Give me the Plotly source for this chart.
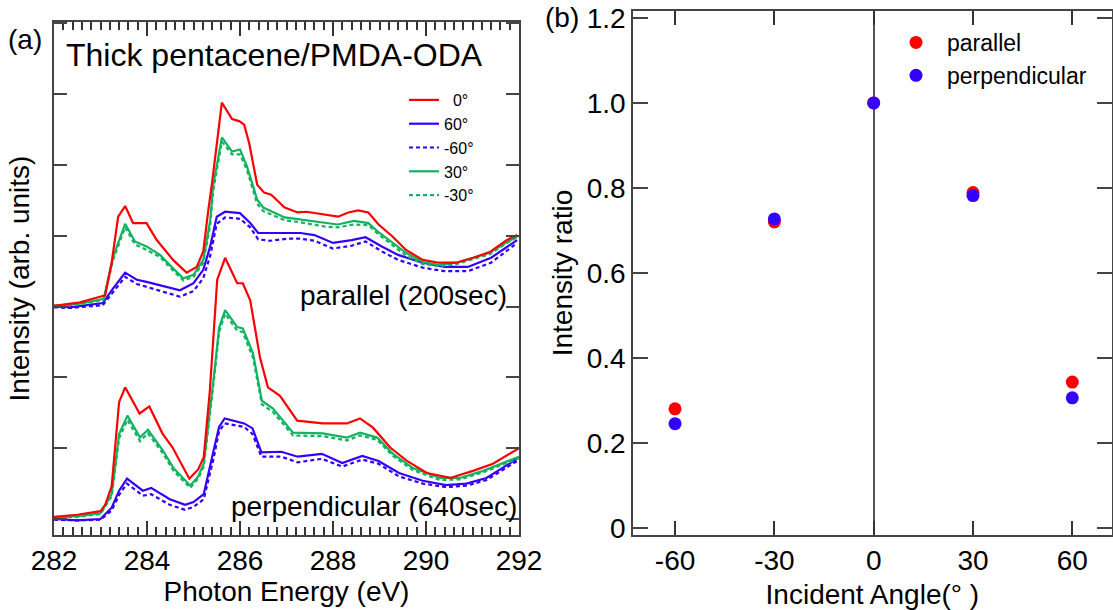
import plotly.graph_objects as go

# ---------------- Panel (a): NEXAFS spectra (offset units, tick spacing = 1) ----------------
# parallel (200 sec), baseline offset 3
par_e_red = [282.0, 282.56, 282.99, 283.10, 283.24, 283.38, 283.53, 283.70, 283.99, 284.21, 284.56, 284.85,
             285.07, 285.21, 285.31, 285.40, 285.61, 285.83, 285.98, 286.09, 286.20, 286.37, 286.52, 286.67,
             286.96, 287.24, 287.43, 287.83, 288.11, 288.33, 288.54, 288.76, 288.98, 289.28, 289.57, 289.93,
             290.28, 290.65, 291.02, 291.37, 291.74, 291.96]
par_i_red = [3.01, 3.06, 3.14, 3.16, 3.62, 4.27, 4.42, 4.18, 4.18, 3.94, 3.66, 3.48,
             3.56, 3.78, 4.32, 4.75, 5.88, 5.65, 5.62, 5.57, 5.30, 4.72, 4.61, 4.58,
             4.40, 4.33, 4.34, 4.30, 4.27, 4.33, 4.36, 4.33, 4.16, 3.99, 3.80, 3.66,
             3.62, 3.62, 3.69, 3.77, 3.94, 4.01]

par_e_green = [282.0, 282.56, 283.07, 283.27, 283.53, 283.74, 283.99, 284.28, 284.56, 284.78, 285.00, 285.21,
               285.36, 285.42, 285.61, 285.83, 286.00, 286.15, 286.37, 286.50, 286.96, 287.30, 287.83, 288.10,
               288.45, 288.76, 289.00, 289.57, 289.93, 290.28, 290.65, 291.02, 291.37, 291.74, 291.96]
par_i_g30 = [3.01, 3.04, 3.11, 3.70, 4.17, 3.92, 3.85, 3.73, 3.54, 3.40, 3.45, 3.66,
             4.22, 4.70, 5.39, 5.19, 5.22, 4.98, 4.51, 4.40, 4.26, 4.23, 4.18, 4.16,
             4.21, 4.18, 4.04, 3.76, 3.63, 3.59, 3.62, 3.69, 3.76, 3.91, 3.99]
par_i_gm30 = [3.01, 3.03, 3.10, 3.66, 4.12, 3.88, 3.80, 3.70, 3.51, 3.37, 3.42, 3.62,
              4.15, 4.62, 5.33, 5.15, 5.15, 4.93, 4.45, 4.35, 4.22, 4.19, 4.13, 4.12,
              4.16, 4.15, 4.01, 3.72, 3.60, 3.57, 3.60, 3.67, 3.74, 3.90, 3.98]

par_e_blue = [282.0, 282.34, 283.05, 283.24, 283.53, 283.78, 283.99, 284.42, 284.71, 285.00, 285.21, 285.36,
              285.50, 285.68, 286.00, 286.22, 286.39, 286.65, 287.03, 287.30, 287.60, 288.00, 288.40, 288.70,
              289.05, 289.40, 289.93, 290.40, 290.90, 291.40, 291.96]
par_i_b60 = [3.01, 2.99, 3.05, 3.23, 3.48, 3.38, 3.35, 3.28, 3.23, 3.33, 3.52, 3.85,
             4.27, 4.34, 4.32, 4.18, 4.04, 4.04, 4.04, 4.04, 4.01, 3.90, 3.94, 3.98,
             3.85, 3.73, 3.62, 3.56, 3.56, 3.69, 3.94]
par_i_bm60 = [2.99, 2.98, 3.02, 3.18, 3.42, 3.32, 3.28, 3.20, 3.14, 3.22, 3.40, 3.72,
              4.17, 4.26, 4.24, 4.12, 3.95, 3.93, 3.96, 3.96, 3.93, 3.82, 3.86, 3.92,
              3.78, 3.66, 3.55, 3.50, 3.50, 3.62, 3.90]

# perpendicular (640 sec), baseline offset 0
per_e_red = [282.0, 282.5, 283.0, 283.10, 283.24, 283.40, 283.53, 283.84, 284.05, 284.33, 284.55, 284.91,
             285.10, 285.22, 285.35, 285.42, 285.51, 285.68, 285.94, 286.06, 286.22, 286.43, 286.60, 286.86,
             287.23, 287.78, 288.30, 288.58, 288.86, 289.23, 289.59, 290.02, 290.52, 291.01, 291.44, 292.0]
per_i_red = [0.03, 0.06, 0.11, 0.20, 0.46, 1.65, 1.86, 1.49, 1.59, 1.21, 1.01, 0.57,
             0.70, 0.87, 1.80, 2.52, 3.38, 3.69, 3.33, 3.33, 3.09, 2.28, 1.86, 1.74,
             1.39, 1.35, 1.35, 1.42, 1.29, 1.01, 0.82, 0.65, 0.58, 0.68, 0.78, 1.00]

per_e_green = [282.0, 282.5, 283.0, 283.24, 283.40, 283.58, 283.85, 284.02, 284.35, 284.57, 284.93, 285.10,
               285.22, 285.35, 285.46, 285.55, 285.68, 285.94, 286.06, 286.28, 286.47, 286.71, 287.14, 287.78,
               288.30, 288.58, 288.95, 289.29, 289.72, 290.30, 290.73, 291.23, 291.74, 292.0]
per_i_g30 = [0.02, 0.04, 0.08, 0.35, 1.20, 1.46, 1.15, 1.26, 0.96, 0.72, 0.47, 0.60,
             0.78, 1.50, 2.14, 2.70, 2.95, 2.71, 2.69, 2.34, 1.67, 1.56, 1.22, 1.21,
             1.15, 1.22, 1.15, 0.92, 0.72, 0.58, 0.58, 0.68, 0.82, 0.88]
per_i_gm30 = [0.02, 0.03, 0.07, 0.32, 1.14, 1.40, 1.10, 1.21, 0.92, 0.68, 0.44, 0.57,
              0.74, 1.44, 2.08, 2.64, 2.90, 2.66, 2.64, 2.28, 1.62, 1.51, 1.18, 1.17,
              1.11, 1.18, 1.12, 0.89, 0.69, 0.55, 0.56, 0.66, 0.80, 0.86]

per_e_blue = [282.0, 282.5, 283.0, 283.24, 283.40, 283.57, 283.91, 284.09, 284.49, 284.82, 285.00, 285.22,
              285.43, 285.55, 285.67, 286.09, 286.27, 286.46, 286.89, 287.24, 287.76, 288.20, 288.63, 288.98,
              289.42, 289.93, 290.43, 290.87, 291.30, 291.96]
per_i_b60 = [0.00, -0.02, 0.00, 0.16, 0.40, 0.57, 0.40, 0.44, 0.28, 0.20, 0.24, 0.35,
             0.96, 1.30, 1.42, 1.35, 1.28, 0.94, 0.95, 0.88, 0.92, 0.79, 0.89, 0.82,
             0.65, 0.54, 0.48, 0.50, 0.58, 0.85]
per_i_bm60 = [-0.01, -0.02, -0.01, 0.12, 0.34, 0.50, 0.33, 0.35, 0.20, 0.13, 0.17, 0.28,
              0.85, 1.24, 1.35, 1.30, 1.20, 0.88, 0.88, 0.80, 0.85, 0.74, 0.84, 0.78,
              0.60, 0.50, 0.45, 0.47, 0.55, 0.82]

# ---------------- Panel (b): intensity ratio vs incident angle ----------------
angles = [-60, -30, 0, 30, 60]
ratio_parallel = [0.280, 0.720, 1.000, 0.789, 0.343]
ratio_perpendicular = [0.245, 0.727, 1.000, 0.782, 0.306]

angle_ticks = [-60, -30, 0, 30, 60]
angle_ticktext = ["-60", "-30", "0", "30", "60"]
ratio_tickvals = [0, 0.2, 0.4, 0.6, 0.8, 1.0, 1.2]
ratio_ticktext = ["0", "0.2", "0.4", "0.6", "0.8", "1.0", "1.2"]

RED = "#ff0000"
BLUE = "#3300ff"
GREEN = "#12b360"
FONT = "Arial, Liberation Sans, sans-serif"
FRAME = "#444444"

fig = go.Figure()

def line(x, y, color, dash, name, show, rank):
    fig.add_trace(go.Scatter(
        x=x, y=y, mode="lines", name=name, showlegend=show, legendrank=rank,
        line=dict(color=color, width=2.2, dash=dash), xaxis="x", yaxis="y", legend="legend",
        hoverinfo="skip"))

# blue / green first so red draws on top
line(par_e_blue, par_i_bm60, BLUE, "4px,3px", "-60°", True, 3)
line(per_e_blue, per_i_bm60, BLUE, "4px,3px", "-60°", False, 3)
line(par_e_blue, par_i_b60, BLUE, "solid", "60°", True, 2)
line(per_e_blue, per_i_b60, BLUE, "solid", "60°", False, 2)
line(par_e_green, par_i_gm30, GREEN, "4px,3px", "-30°", True, 5)
line(per_e_green, per_i_gm30, GREEN, "4px,3px", "-30°", False, 5)
line(par_e_green, par_i_g30, GREEN, "solid", "30°", True, 4)
line(per_e_green, per_i_g30, GREEN, "solid", "30°", False, 4)
line(par_e_red, par_i_red, RED, "solid", "\u00a0\u00a00°", True, 1)
line(per_e_red, per_i_red, RED, "solid", "\u00a0\u00a00°", False, 1)

fig.add_trace(go.Scatter(x=angles, y=ratio_parallel, mode="markers", name="parallel",
                         marker=dict(color=RED, size=13), xaxis="x2", yaxis="y2", legend="legend2"))
fig.add_trace(go.Scatter(x=angles, y=ratio_perpendicular, mode="markers", name="perpendicular",
                         marker=dict(color=BLUE, size=13), xaxis="x2", yaxis="y2", legend="legend2"))

W, H = 1113, 610
def px(x):
    return x / W
def py(y):
    return 1 - y / H

common = dict(showgrid=False, zeroline=False, showline=True, linecolor=FRAME, linewidth=1.5,
              tickfont=dict(size=28, color="black", family=FONT), automargin=False)

fig.update_layout(
    width=W, height=H, margin=dict(l=0, r=0, t=0, b=0),
    paper_bgcolor="white", plot_bgcolor="white",
    font=dict(family=FONT, color="black"),
    xaxis=dict(domain=[px(54), px(519)], range=[282, 292], tickmode="linear", tick0=282, dtick=2,
               ticks="inside", ticklen=14, tickwidth=2, tickcolor="#333333", mirror="allticks",
               minor=dict(tickmode="linear", tick0=282, dtick=0.2, ticks="inside", ticklen=8,
                          tickcolor="#333333", tickwidth=1.5, showgrid=False),
               title=dict(text="Photon Energy (eV)", font=dict(size=28), standoff=6),
               anchor="y", layer="above traces", **common),
    yaxis=dict(domain=[py(535), py(22)], range=[-0.226, 7.02], dtick=1, tick0=0,
               ticks="inside", ticklen=13, tickwidth=1.5, tickcolor=FRAME, mirror="allticks",
               showticklabels=False,
               title=dict(text="Intensity (arb. units)", font=dict(size=28), standoff=14),
               anchor="x", **common),
    xaxis2=dict(domain=[px(633), px(1111.7)], range=[-72.7, 71.9], tickmode="array", tickvals=angle_ticks,
                ticktext=angle_ticktext, ticks="inside", ticklen=14, tickwidth=2, tickcolor="#333333",
                mirror="allticks",
                title=dict(text="Incident Angle(° )", font=dict(size=28), standoff=10),
                anchor="y2", layer="above traces",
                **{**common, "zeroline": True}, zerolinecolor="#555555", zerolinewidth=1.5),
    yaxis2=dict(domain=[py(535), py(11)], range=[-0.017, 1.2165], tickmode="array", tickvals=ratio_tickvals,
                ticktext=ratio_ticktext, ticks="inside", ticklen=15, tickwidth=1.5, tickcolor=FRAME,
                mirror="allticks",
                title=dict(text="Intensity ratio", font=dict(size=28), standoff=6),
                anchor="x2", **common),
    legend=dict(x=px(404), y=py(83), xanchor="left", yanchor="top", bgcolor="rgba(0,0,0,0)",
                font=dict(size=16, color="black"), borderwidth=0, traceorder="normal"),
    legend2=dict(x=px(885), y=py(21), xanchor="left", yanchor="top", bgcolor="rgba(0,0,0,0)",
                 font=dict(size=23, color="black"), borderwidth=0, itemwidth=52),
    annotations=[
        dict(text="(a)", x=px(6), y=py(40), xref="paper", yref="paper", xanchor="left", yanchor="middle",
             showarrow=False, font=dict(size=28)),
        dict(text="(b)", x=px(543), y=py(18), xref="paper", yref="paper", xanchor="left", yanchor="middle",
             showarrow=False, font=dict(size=28)),
        dict(text="Thick pentacene/PMDA-ODA", x=px(64), y=py(55), xref="paper", yref="paper",
             xanchor="left", yanchor="middle", showarrow=False, font=dict(size=32)),
        dict(text="parallel (200sec)", x=px(509), y=py(295), xref="paper", yref="paper",
             xanchor="right", yanchor="middle", showarrow=False, font=dict(size=28)),
        dict(text="perpendicular (640sec)", x=px(519), y=py(506), xref="paper", yref="paper",
             xanchor="right", yanchor="middle", showarrow=False, font=dict(size=28)),
    ],
)

fig.write_html("out.html", config={"displayModeBar": False},
               post_script="document.body.style.margin='0px'; document.body.style.overflow='hidden';")
